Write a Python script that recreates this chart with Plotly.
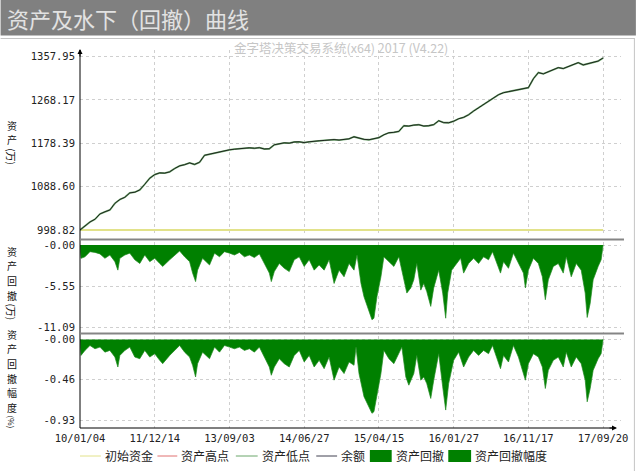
import plotly.graph_objects as go

# ---------------- data ----------------
TICK_BARS = [0, 75, 150, 225, 300, 375, 450, 525]
TICK_LABELS = ["10/01/04", "11/12/14", "13/09/03", "14/06/27",
               "15/04/15", "16/01/27", "16/11/17", "17/09/20"]

INITIAL_CAPITAL = 998.82
EQUITY_STEP = 5
EQUITY = [
    998.82, 1007.5, 1015.4, 1021.0, 1032.0, 1036.5, 1040.3, 1054.0, 1062.0, 1066.5,
    1075.6, 1077.0, 1081.8, 1093.5, 1106.0, 1113.5, 1117.1, 1116.5, 1119.2, 1126.0,
    1131.6, 1134.0, 1137.8, 1134.5, 1139.0, 1153.5, 1156.0, 1157.5, 1160.7, 1163.0,
    1164.8, 1166.0, 1166.9, 1168.5, 1169.0, 1168.0, 1169.2, 1166.5, 1167.0, 1175.2,
    1177.0, 1179.3, 1178.5, 1181.0, 1181.4, 1179.8, 1181.4, 1183.0, 1183.5, 1184.2,
    1185.6, 1186.0, 1185.0, 1187.0, 1187.6, 1191.8, 1189.0, 1186.5, 1185.6, 1188.0,
    1190.0, 1195.9, 1200.1, 1201.0, 1203.0, 1214.6, 1214.0, 1216.0, 1216.7, 1214.0,
    1214.6, 1217.0, 1225.0, 1221.0, 1220.8, 1224.0, 1229.1, 1232.0, 1237.4, 1245.0,
    1252.0, 1258.0, 1264.4, 1272.0, 1278.9, 1283.0, 1285.2, 1287.0, 1289.3, 1290.5,
    1293.5, 1312.0, 1324.6, 1322.0, 1326.7, 1330.0, 1335.0, 1333.0, 1337.0, 1341.0,
    1345.3, 1340.5, 1343.3, 1346.0, 1348.5, 1355.0,
]

DD_BARS = [
    0, 1, 5, 10, 15, 20, 25, 30, 35, 38, 40, 45, 50, 55, 60, 65, 70, 75, 80, 83,
    90, 95, 100, 105, 110, 113, 116, 118, 123, 130, 135, 140, 145, 150, 155, 160,
    165, 170, 175, 180, 185, 190, 192, 195, 200, 205, 210, 215, 220, 225, 230, 235,
    240, 245, 250, 255, 260, 265, 270, 275, 278, 282, 285, 290, 293, 295, 298, 302,
    305, 310, 315, 320, 325, 328, 332, 335, 338, 342, 345, 348, 352, 355, 360, 364,
    367, 369, 373, 378, 382, 385, 390, 395, 400, 405, 410, 414, 418, 422, 425, 430,
    435, 440, 445, 447, 450, 455, 460, 464, 467, 470, 475, 480, 485, 488, 493, 498,
    503, 507, 509, 512, 515, 520, 523, 525,
]
DD_VALUES = [
    0.0, -1.8, -1.6, -0.9, -1.0, -1.2, -1.8, -1.35, -2.25, -3.4, -1.8, -1.35, -1.1, -2.0, -2.5, -1.35, -2.25, -1.8, -2.5, -2.9,
    -2.0, -1.35, -0.8, -1.6, -2.25, -3.8, -4.95, -3.4, -1.8, -2.7, -1.1, -1.6, -0.9, -1.1, -1.35, -1.0,
    -1.6, -1.35, -1.7, -1.2, -2.5, -3.8, -4.95, -3.6, -2.5, -3.15, -3.6, -2.0, -1.6, -2.9, -2.0, -3.4,
    -2.7, -3.4, -2.0, -5.2, -3.4, -4.3, -2.5, -3.4, -1.35, -5.2, -7.0, -8.8, -10.1, -9.9, -7.0, -4.3,
    -1.6, -2.25, -2.9, -1.6, -4.7, -6.5, -5.8, -4.7, -2.5, -6.1, -5.2, -6.3, -8.3, -5.8, -3.4, -6.5,
    -9.9, -6.5, -3.4, -2.5, -1.8, -3.8, -2.5, -1.8, -2.5, -1.6, -2.0, -0.9, -2.5, -3.8, -2.25, -3.15,
    -1.1, -2.5, -3.8, -5.8, -3.4, -1.8, -2.5, -4.3, -7.4, -4.7, -2.9, -2.5, -3.8, -1.6, -4.3, -2.5,
    -3.4, -6.5, -9.8, -7.9, -4.7, -2.9, -2.0, 0.0,
]

DDP_BARS = [
    0, 1, 5, 10, 15, 20, 25, 30, 35, 38, 40, 45, 50, 55, 60, 65, 70, 75, 80, 83,
    90, 95, 100, 105, 110, 113, 116, 118, 123, 130, 135, 140, 145, 150, 155, 160,
    165, 170, 175, 180, 185, 190, 192, 195, 200, 205, 210, 215, 220, 225, 230, 235,
    240, 245, 250, 255, 260, 265, 270, 275, 277, 280, 285, 290, 293, 295, 298, 302,
    305, 310, 315, 320, 323, 327, 330, 335, 338, 342, 345, 348, 352, 355, 360, 364,
    367, 370, 375, 380, 385, 390, 395, 400, 405, 410, 414, 418, 422, 425, 430, 435,
    440, 443, 447, 450, 455, 460, 464, 467, 470, 475, 480, 485, 488, 493, 498, 503,
    507, 509, 512, 515, 520, 523, 525,
]
DDP_VALUES = [
    0.0, -0.184, -0.126, -0.069, -0.107, -0.088, -0.146, -0.126, -0.203, -0.318, -0.184, -0.126, -0.088, -0.203, -0.222, -0.126, -0.203, -0.164, -0.241, -0.279,
    -0.184, -0.126, -0.069, -0.146, -0.203, -0.298, -0.433, -0.279, -0.146, -0.222, -0.088, -0.146, -0.069, -0.088, -0.107, -0.088,
    -0.126, -0.107, -0.146, -0.088, -0.203, -0.318, -0.413, -0.318, -0.222, -0.279, -0.318, -0.184, -0.126, -0.26, -0.184, -0.318,
    -0.241, -0.337, -0.203, -0.47, -0.318, -0.394, -0.26, -0.298, -0.088, -0.394, -0.66, -0.777, -0.853, -0.834, -0.623, -0.394,
    -0.126, -0.222, -0.279, -0.164, -0.088, -0.433, -0.528, -0.394, -0.184, -0.47, -0.433, -0.509, -0.681, -0.47, -0.164, -0.547,
    -0.815, -0.509, -0.241, -0.146, -0.318, -0.203, -0.126, -0.184, -0.126, -0.164, -0.069, -0.203, -0.337, -0.184, -0.26, -0.069,
    -0.203, -0.318, -0.47, -0.279, -0.164, -0.203, -0.318, -0.566, -0.356, -0.241, -0.203, -0.318, -0.146, -0.318, -0.203, -0.279,
    -0.47, -0.72, -0.566, -0.356, -0.222, -0.164, 0.0,
]

Y1_TICKS = [998.82, 1088.60, 1178.39, 1268.17, 1357.95]
Y1_LABELS = ["998.82", "1088.60", "1178.39", "1268.17", "1357.95"]
Y2_TICKS = [0.0, -5.55, -11.09]
Y2_LABELS = ["-0.00", "-5.55", "-11.09"]
Y3_TICKS = [0.0, -0.46, -0.93]
Y3_LABELS = ["-0.00", "-0.46", "-0.93"]

TITLE = "资产及水下（回撤）曲线"
SUBTITLE = "金字塔决策交易系统(x64) 2017 (V4.22)"

# ---------------- layout helpers ----------------
W, H = 640, 471
ML, MR, MT, MB = 80, 15, 50, 43
PW, PH = W - ML - MR, H - MT - MB


def px_x(px):
    return (px - ML) / PW


def px_y(py):
    return (H - MB - py) / PH


eq_bars = [i * EQUITY_STEP for i in range(len(EQUITY))]

CJK = "Noto Sans CJK SC"
MONO = "DejaVu Sans Mono"
GREEN = "#008000"

fig = go.Figure()
fig.add_trace(go.Scatter(x=[eq_bars[0], eq_bars[-1]], y=[INITIAL_CAPITAL, INITIAL_CAPITAL],
                         mode="lines", line=dict(color="#e2e28a", width=2),
                         xaxis="x", yaxis="y", name="初始资金", hoverinfo="skip"))
fig.add_trace(go.Scatter(x=eq_bars, y=EQUITY, mode="lines",
                         line=dict(color="#6fa86f", width=1.8),
                         xaxis="x", yaxis="y", name="资产低点"))
fig.add_trace(go.Scatter(x=eq_bars, y=EQUITY, mode="lines",
                         line=dict(color="#151515", width=0.9),
                         xaxis="x", yaxis="y", name="余额"))
fig.add_trace(go.Scatter(x=DD_BARS, y=DD_VALUES, mode="lines", fill="tozeroy",
                         fillcolor=GREEN, line=dict(color="#1f8a1f", width=0.7),
                         xaxis="x2", yaxis="y2", name="资产回撤"))
fig.add_trace(go.Scatter(x=DDP_BARS, y=DDP_VALUES, mode="lines", fill="tozeroy",
                         fillcolor=GREEN, line=dict(color="#1f8a1f", width=0.7),
                         xaxis="x3", yaxis="y3", name="资产回撤幅度"))

x_right = PW * (TICK_BARS[-1] / (607 - ML))
xcommon = dict(range=[0, x_right], tickvals=TICK_BARS, showgrid=True,
               gridcolor="#cfcfcf", griddash="3px,3px", gridwidth=1,
               zeroline=False, showline=False, ticks="")
ycommon = dict(showgrid=True, gridcolor="#cfcfcf", griddash="3px,3px", gridwidth=1,
               zeroline=False, showline=False, ticks="", ticklabelstandoff=4,
               tickfont=dict(family=MONO, size=10.5, color="#222"))

fig.update_layout(
    width=W, height=H, margin=dict(l=ML, r=MR, t=MT, b=MB),
    paper_bgcolor="white", plot_bgcolor="white", showlegend=False,
    xaxis=dict(domain=[0, 1], anchor="y", showticklabels=False, **xcommon),
    xaxis2=dict(domain=[0, 1], anchor="y2", showticklabels=False, matches="x", **xcommon),
    xaxis3=dict(domain=[0, 1], anchor="y3", matches="x", ticktext=TICK_LABELS,
                tickfont=dict(family=MONO, size=10.5, color="#222"),
                ticklabelstandoff=2, **xcommon),
    yaxis=dict(domain=[px_y(236), 1.0], range=[986.4, 1371.4],
               tickvals=Y1_TICKS, ticktext=Y1_LABELS, **ycommon),
    yaxis2=dict(domain=[px_y(333), px_y(242)], range=[-11.90, 0.406],
                tickvals=Y2_TICKS, ticktext=Y2_LABELS, **ycommon),
    yaxis3=dict(domain=[0, px_y(336)], range=[-1.0224, 0.0404],
                tickvals=Y3_TICKS, ticktext=Y3_LABELS, **ycommon),
)

shapes = [
    # title bar
    dict(type="rect", xref="paper", yref="paper", x0=px_x(0), x1=px_x(640),
         y0=px_y(35.5), y1=px_y(0), fillcolor="#808080", line=dict(width=0)),
    # frame
    dict(type="line", xref="paper", yref="paper", x0=px_x(0), x1=px_x(639),
         y0=px_y(38.5), y1=px_y(38.5), line=dict(color="#c4c4c4", width=1)),
    dict(type="line", xref="paper", yref="paper", x0=px_x(638.5), x1=px_x(638.5),
         y0=px_y(38.5), y1=px_y(471), line=dict(color="#c4c4c4", width=1)),
    # axes
    dict(type="line", xref="paper", yref="paper", x0=0, x1=0, y0=0, y1=px_y(50),
         line=dict(color="black", width=1)),
    dict(type="line", xref="paper", yref="paper", x0=0, x1=px_x(619), y0=0, y1=0,
         line=dict(color="black", width=1)),
    # panel separators
    dict(type="line", xref="paper", yref="paper", x0=0, x1=px_x(628),
         y0=px_y(239.5), y1=px_y(239.5), line=dict(color="#858585", width=2)),
    dict(type="line", xref="paper", yref="paper", x0=0, x1=px_x(628),
         y0=px_y(333.5), y1=px_y(333.5), line=dict(color="#858585", width=2)),
]

annotations = [
    dict(xref="paper", yref="paper", x=px_x(4), y=px_y(18), xanchor="left", yanchor="middle",
         text=TITLE, showarrow=False, font=dict(family=CJK, size=22, color="#e2e2e2")),
    dict(xref="paper", yref="paper", x=px_x(343), y=px_y(47), xanchor="center", yanchor="middle",
         text=SUBTITLE, showarrow=False, font=dict(family=CJK, size=12.5, color="#c6c6c6")),
    # axis arrows
    dict(xref="paper", yref="paper", x=0, y=px_y(49), text="", showarrow=True,
         arrowhead=2, arrowsize=1, arrowwidth=1, arrowcolor="black", ax=0, ay=9),
    dict(xref="paper", yref="paper", x=px_x(621), y=0, text="", showarrow=True,
         arrowhead=2, arrowsize=1, arrowwidth=1, arrowcolor="black", ax=-9, ay=0),
]

# vertical axis titles: upright stacked characters plus a rotated unit
YT_SIZE = 10
YT_PITCH = 14.6
YT_COLOR = "#111"


def vtitle(chars, top, unit, unit_size, unit_half):
    for i, ch in enumerate(chars):
        annotations.append(dict(xref="paper", yref="paper", x=px_x(11),
                                y=px_y(top + YT_PITCH * (i + 0.5)),
                                xanchor="center", yanchor="middle", text=ch,
                                showarrow=False, borderpad=0,
                                font=dict(family=CJK, size=YT_SIZE, color=YT_COLOR)))
    bottom = top + YT_PITCH * len(chars)
    annotations.append(dict(xref="paper", yref="paper", x=px_x(11),
                            y=px_y(bottom + unit_half + 1), xanchor="center", yanchor="middle",
                            text=unit, textangle=90, showarrow=False, borderpad=0,
                            font=dict(family=CJK, size=unit_size, color=YT_COLOR)))


vtitle(["资", "产"], 118, "(万)", 10, 8.5)
vtitle(["资", "产", "回", "撤"], 244, "(万)", 10, 8.5)
vtitle(["资", "产", "回", "撤", "幅", "度"], 327, "(%)", 8, 6.5)

# custom legend
LEG_Y = 456
legend_items = [
    ("line", "#e2e28a", 80, 101, "初始资金"),
    ("line", "#e07070", 158, 178, "资产高点"),
    ("line", "#6aa66a", 237, 259, "资产低点"),
    ("line", "#404050", 318, 339, "余额"),
    ("box", GREEN, 372, 394, "资产回撤"),
    ("box", GREEN, 451, 474, "资产回撤幅度"),
]
for kind, col, a, b, label in legend_items:
    if kind == "line":
        shapes.append(dict(type="line", xref="paper", yref="paper", x0=px_x(a), x1=px_x(b),
                           y0=px_y(LEG_Y), y1=px_y(LEG_Y), line=dict(color=col, width=1)))
    else:
        shapes.append(dict(type="rect", xref="paper", yref="paper", x0=px_x(a), x1=px_x(b),
                           y0=px_y(LEG_Y + 6), y1=px_y(LEG_Y - 6), fillcolor=col,
                           line=dict(width=0)))
    annotations.append(dict(xref="paper", yref="paper", x=px_x(b + 2), y=px_y(LEG_Y),
                            xanchor="left", yanchor="middle", text=label, showarrow=False,
                            font=dict(family=CJK, size=12, color="#222")))

fig.update_layout(shapes=shapes, annotations=annotations)
fig.write_html("out.html", config={"displayModeBar": False},
               post_script="document.body.style.margin='0px';")
